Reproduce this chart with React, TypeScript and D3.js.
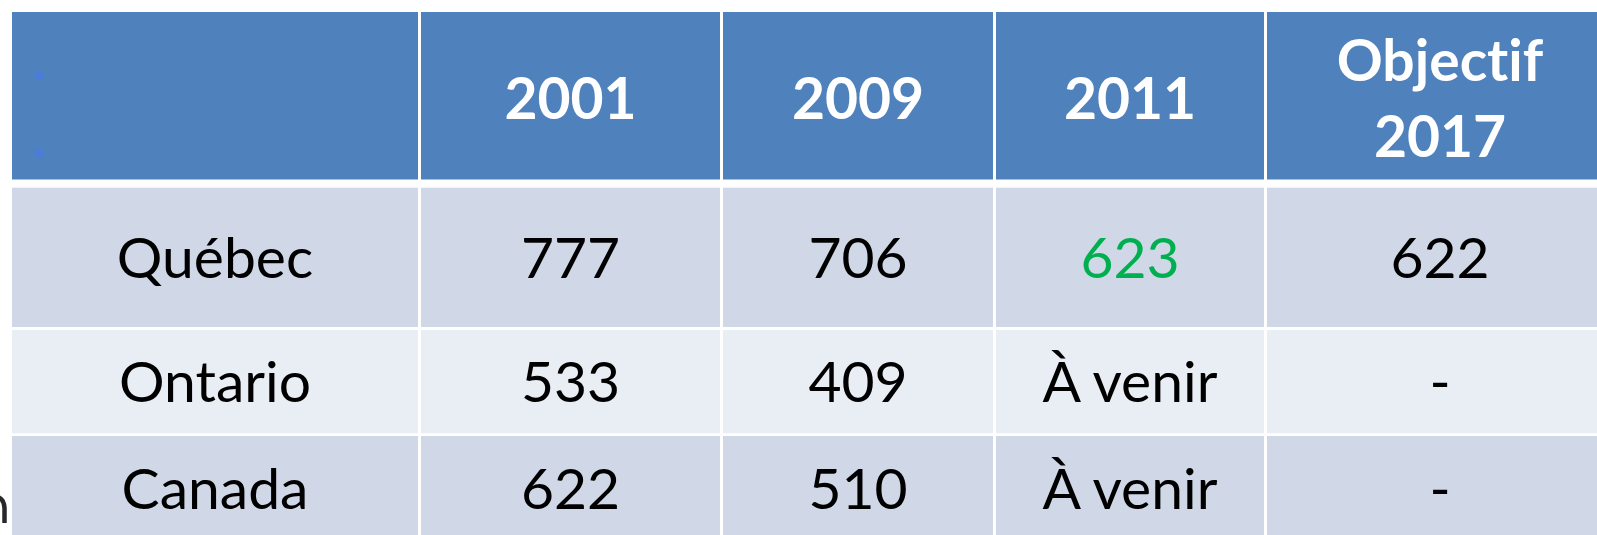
import React from 'react';
import * as d3 from 'd3';

// table content
const headerLabels = [[""], ["2001"], ["2009"], ["2011"], ["Objectif", "2017"]];
const regions = ["Québec", "Ontario", "Canada"];
const values2001 = ["777", "533", "622"];
const values2009 = ["706", "409", "510"];
const values2011 = ["623", "À venir", "À venir"];
const objectif2017 = ["622", "-", "-"];
const highlighted = [[0, 3]]; // [row, col] drawn in green

const W = 1597;
const H = 535;
const FONT = "Lato, 'Open Sans', sans-serif";
const FS = 57;

// column / row edges of the table (pixels)
const colStarts = [12, 421, 723, 996, 1267];
const colEnds = [418, 720, 993, 1264, 1613];
const headerTop = 12;
const headerBottom = 179.5;
const rowStarts = [187.7, 330, 436];
const rowEnds = [327, 433.3, 542];

const HEADER_FILL = "#4F81BD";
const ROW_FILLS = ["#D0D8E8", "#E9EDF4", "#D0D8E8"];

const noLig = { fontVariantLigatures: 'none' as const, fontFeatureSettings: '"liga" 0, "clig" 0' };

export default function App() {
  const cols = d3.range(headerLabels.length);
  const x0 = d3.scaleOrdinal<number, number>().domain(cols).range(colStarts);
  const x1 = d3.scaleOrdinal<number, number>().domain(cols).range(colEnds);
  const cx = (c: number) => (x0(c) + x1(c)) / 2;

  const rows = regions.map((r, i) => [r, values2001[i], values2009[i], values2011[i], objectif2017[i]]);
  const y0 = d3.scaleOrdinal<number, number>().domain(d3.range(rows.length)).range(rowStarts);
  const y1 = d3.scaleOrdinal<number, number>().domain(d3.range(rows.length)).range(rowEnds);

  const isGreen = (r: number, c: number) => highlighted.some(([hr, hc]) => hr === r && hc === c);
  const capHalf = FS * 0.3583;
  const lineH = 75.7;
  const headerMid = (headerTop + headerBottom) / 2 + 2.5;

  // fragment of a glyph sticking in at the left edge
  const stray = d3.path();
  stray.moveTo(-2, 497);
  stray.quadraticCurveTo(4, 499, 4.5, 508);
  stray.lineTo(4.5, 523);

  return (
    <svg width={W} height={H} style={{ position: 'absolute', left: 0, top: 0, display: 'block', background: '#fff' }}>
      {/* header */}
      {cols.map(c => (
        <rect key={`h${c}`} x={x0(c)} y={headerTop} width={x1(c) - x0(c)} height={headerBottom - headerTop} fill={HEADER_FILL} />
      ))}
      {cols.map(c => {
        const lines = headerLabels[c];
        const first = headerMid + capHalf - ((lines.length - 1) * lineH) / 2;
        return lines.map((t, k) => (
          <text key={`ht${c}${k}`} x={cx(c)} y={first + k * lineH} textAnchor="middle" style={noLig}
            fontFamily={FONT} fontWeight="bold" fontSize={FS} fill="#fff">{t}</text>
        ));
      })}
      <circle cx={39} cy={76} r={4.5} fill="#4C7CDB" />
      <circle cx={39} cy={153} r={4.5} fill="#4C7CDB" />

      {/* body */}
      {rows.map((row, r) => (
        <g key={`r${r}`}>
          {row.map((v, c) => (
            <rect key={`c${c}`} x={x0(c)} y={y0(r)} width={x1(c) - x0(c)} height={y1(r) - y0(r)} fill={ROW_FILLS[r]} />
          ))}
          {row.map((v, c) => (
            <text key={`t${c}`} x={cx(c)} y={(y0(r) + y1(r)) / 2 + capHalf} textAnchor="middle" style={noLig}
              fontFamily={FONT} fontSize={FS} fill={isGreen(r, c) ? "#00B050" : "#000"}>{v}</text>
          ))}
        </g>
      ))}

      <path d={stray.toString()} fill="none" stroke="#111" strokeWidth={4.5} strokeLinecap="butt" opacity={0.9} />
    </svg>
  );
}
